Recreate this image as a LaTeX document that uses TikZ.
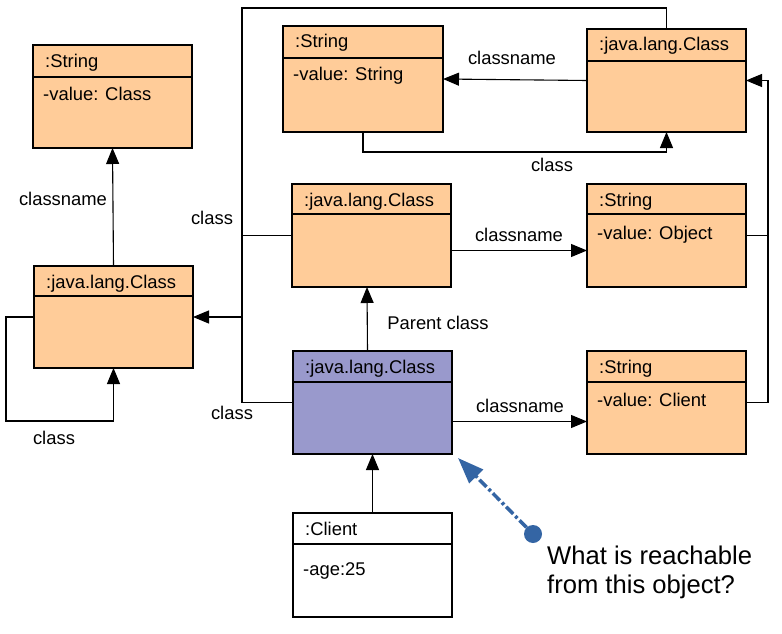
\documentclass[tikz,border=0pt]{standalone}
\usepackage{fontspec}
\setmainfont{Liberation Sans}
\usetikzlibrary{arrows.meta,calc}
\definecolor{orng}{HTML}{FFCC99}
\definecolor{purp}{HTML}{9999CC}
\definecolor{blu}{HTML}{3465A4}
% name, x, y, w, h, divider offset, fill, title, body
\newcommand{\umlobj}[9]{%
  \node[objbox, fill=#7, minimum width=#4pt, minimum height=#5pt] (#1) at (#2,#3) {};
  \draw[conn] ($(#1.north west)+(0,#6)$) -- ($(#1.north east)+(0,#6)$);
  \node[txt] (#1-t) at ($(#1.north west)+(12,22)$) {#8};
  \node[txt] (#1-b) at ($(#1.north west)+(10,55)$) {#9};
}
\begin{document}
\begin{tikzpicture}[x=1pt,y=-1pt,
  objbox/.style={draw=black, line width=1.1pt, inner sep=0pt, outer sep=0pt, anchor=north west},
  txt/.style={anchor=base west, inner sep=0pt, font=\fontsize{18.4}{21}\selectfont},
  lbl/.style={inner sep=0pt, font=\fontsize{18.4}{21}\selectfont},
  conn/.style={line width=1.1pt, line join=miter},
  arr/.style={conn, -{Triangle[length=16pt,width=13pt]}},
  note/.style={anchor=north west, inner sep=0pt, align=left, font=\fontsize{25.6}{29}\selectfont},
  reach/.style={blu, line width=3.5pt, line cap=butt, dash pattern=on 10pt off 3pt on 3pt off 3pt, -{Triangle[length=26pt,width=19pt]}}
]
\fill[white] (0,0) rectangle (782,634);
\useasboundingbox (0,0) rectangle (782,634);

\umlobj{A}{33}{45}{159}{103}{32}{orng}{:String}{-value: Class}
\umlobj{B}{34}{266}{159}{102}{30}{orng}{:java.lang.Class}{}
\umlobj{C}{283}{26}{160}{106}{32}{orng}{:String}{-value: String}
\umlobj{D}{587}{29}{159}{103}{32}{orng}{:java.lang.Class}{}
\umlobj{E}{292}{184}{159}{103}{30}{orng}{:java.lang.Class}{}
\umlobj{F}{587}{184}{159}{103}{30}{orng}{:String}{-value: Object}
\umlobj{G}{293}{351}{159}{103}{31}{purp}{:java.lang.Class}{}
\umlobj{H}{587}{351}{159}{103}{31}{orng}{:String}{-value: Client}
% Client box
\node[objbox, fill=white, minimum width=159pt, minimum height=104pt] (I) at (293,513) {};
\draw[conn] ($(I.north west)+(0,31)$) -- ($(I.north east)+(0,31)$);
\node[txt] (I-t) at ($(I.north west)+(12,22)$) {:Client};
\node[txt] (I-b) at ($(I.north west)+(10,62)$) {-age:25};

\coordinate (jT) at (242,8);
\coordinate (jL) at (242,317);

% connectors
\draw[arr] (B.north) -- (A.south);
\node[lbl] (l1) at (63,199) {classname};
\draw[arr] (B.west) -- ++(-28,0) -- ++(0,104) -| (B.south);
\node[lbl] (l2) at (54,438) {class};

\draw[arr] (D.west) -- (C.east);
\node[lbl] (l3) at (512,58) {classname};
\draw[arr] (C.south) -- ++(0,20) -| (D.south);
\node[lbl] (l4) at (552,165) {class};

\draw[arr] (D.north) |- (jT) -- (jL) -- (B.east);
\node[lbl] (l5) at (212,218) {class};
\draw[conn] (E.west) -- (E.west -| jL);
\draw[conn] (G.west) -| (jL);
\node[lbl] (l6) at (232,413) {class};

\draw[arr] ($(E.east)+(0,15)$) -- ($(F.west)+(0,15)$);
\node[lbl] (l7) at (519,235) {classname};

\draw[arr] (H.east) -- ++(22,0) |- (D.east);
\draw[conn] (F.east) -- ++(22,0);

\draw[arr] ($(G.north)+(-5,0)$) -- ($(E.south)+(-4.5,0)$);
\node[lbl] (l8) at (438,323) {Parent class};

\draw[arr] ($(G.east)+(0,19)$) -- ($(H.west)+(0,19)$);
\node[lbl] (l9) at (520,406) {classname};

\draw[arr] (I.north) -- (G.south);

% note
\coordinate (tip) at (458,458);
\node[circle, fill=blu, inner sep=0pt, minimum size=18pt] (dot) at (533,534) {};
\draw[reach] (dot) -- (tip);
\node[note] (q) at (547,546) {What is reachable\\from this object?};
\end{tikzpicture}
\end{document}
